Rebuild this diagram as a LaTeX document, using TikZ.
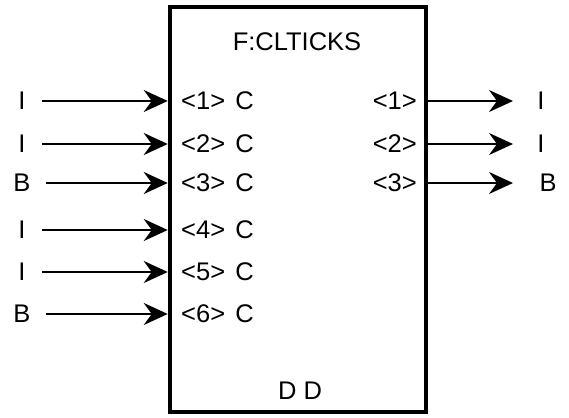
\documentclass[tikz,border=0pt]{standalone}
\usepackage{fontspec}
\setmainfont{Liberation Sans}
\usetikzlibrary{arrows.meta}
\begin{document}
\begin{tikzpicture}[x=1pt,y=-1pt,
  txt/.style={font=\fontsize{25.5}{28}\selectfont, inner sep=0pt},
  arr/.style={line width=2pt, -{Stealth[length=24pt,width=22pt,inset=8pt]}},
  blockbox/.style={draw, line width=4.5pt, minimum width=256pt, minimum height=405pt, inner sep=0pt}]
\useasboundingbox (0,0) rectangle (569,417);
\node[blockbox] (blk) at (298,209.5) {};
\node[txt] (title) at (297,42) {F:CLTICKS};
\node[txt] (dd) at (300,391) {D D};
% inputs
\foreach \i/\y/\t/\s in {1/101/I/42, 2/144/I/42, 3/183/B/46, 4/230/I/42, 5/272/I/42, 6/314/B/46}{
  \node[txt] (il\i) at (22,\y) {\t};
  \coordinate (is\i) at (\s,\y);
  \node[txt, anchor=west] (ip\i) at (181,\y) {<\i>\hspace{0.4em}C};
  \draw[arr] (is\i) -- (is\i -| blk.west);
}
% outputs
\foreach \i/\y/\t/\x in {1/101/I/541, 2/144/I/541, 3/183/B/548}{
  \node[txt, anchor=east] (op\i) at (417,\y) {<\i>};
  \coordinate (oe\i) at (513,\y);
  \node[txt] (ol\i) at (\x,\y) {\t};
  \draw[arr] (oe\i -| blk.east) -- (oe\i);
}
\end{tikzpicture}
\end{document}
